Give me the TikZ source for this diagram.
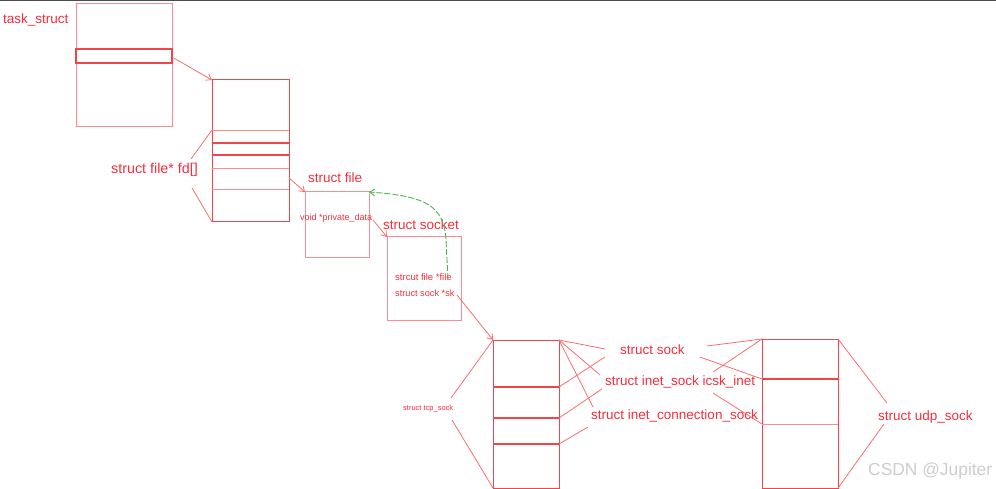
\documentclass[tikz,border=0pt]{standalone}
\usepackage{fontspec}
\setmainfont{Liberation Sans}
\usetikzlibrary{arrows.meta,calc}
\definecolor{redthin}{RGB}{255,140,140}
\definecolor{redthick}{RGB}{240,70,75}
\definecolor{redline}{RGB}{250,110,110}
\definecolor{redtext}{RGB}{245,45,60}
\definecolor{greenline}{RGB}{70,185,80}
\definecolor{wm}{RGB}{205,205,205}
\tikzset{
  box/.style={draw=redthin, line width=1pt, inner sep=0pt, outer sep=0pt, anchor=north west},
  lbl/.style={text=redtext, font=\fontsize{13.5}{16}\selectfont, inner sep=0pt, anchor=west},
  smalllbl/.style={text=redtext, font=\fontsize{9.2}{11}\selectfont, inner sep=0pt, anchor=west},
  link/.style={draw=redline, line width=0.8pt},
  arr/.style={link, -{Straight Barb[length=5pt,width=7pt]}},
  rowthin/.style={draw=redthin, line width=0.8pt},
  rowthick/.style={draw=redthick, line width=1.2pt},
}
\begin{document}
\begin{tikzpicture}[x=1pt,y=-1pt]
\useasboundingbox (0,0) rectangle (996,489);
\fill[black!70] (0,0) rectangle (996,1.3);

% ---------- boxes ----------
\node[box, minimum width=96pt, minimum height=123pt] (task) at (76,4) {};
\node[box, minimum width=77pt, minimum height=142pt, draw=redthick] (fd) at (212,80) {};
\node[box, minimum width=64pt, minimum height=65pt] (file) at (305,192) {};
\node[box, minimum width=74pt, minimum height=83pt] (sock) at (387,237) {};
\node[box, minimum width=66pt, minimum height=148pt, draw=redthick] (tcp) at (493,340) {};
\node[box, minimum width=76pt, minimum height=149pt, draw=redthick] (udp) at (762,339) {};

% rows
\draw[rowthick] (76,49) rectangle (172,63);
\draw[rowthin]  (212,130) -- (289,130);
\draw[rowthick] (212,143) -- (289,143);
\draw[rowthick] (212,155) -- (289,155);
\draw[rowthin]  (212,168) -- (289,168);
\draw[rowthin]  (212,189) -- (289,189);
\draw[rowthick] (493,387) -- (559,387);
\draw[rowthick] (493,418) -- (559,418);
\draw[rowthick] (493,444) -- (559,444);
\draw[rowthick] (762,379) -- (838,379);
\draw[rowthin]  (762,424) -- (838,424);

% ---------- labels ----------
\node[lbl] (ltask) at (3,20) {task\_struct};
\node[lbl, font=\fontsize{14.3}{16}\selectfont] (lfd) at (111,170) {struct file* fd[]};
\node[lbl] (lfile) at (308,178) {struct file};
\node[smalllbl, font=\fontsize{9}{11}\selectfont] (lpriv) at (300,218) {void *private\_data};
\node[lbl] (lsock) at (383,225) {struct socket};
\node[smalllbl, font=\fontsize{9.5}{11}\selectfont] (lsf) at (395,277) {strcut file *file};
\node[smalllbl] (lsk) at (395,293) {struct sock *sk};
\node[smalllbl, font=\fontsize{7.5}{9}\selectfont] (ltcp) at (403,409) {struct tcp\_sock};
\node[lbl] (lss) at (620,350) {struct sock};
\node[lbl] (lis) at (605,382) {struct inet\_sock icsk\_inet};
\node[lbl] (lic) at (591,416) {struct inet\_connection\_sock};
\node[lbl] (ludp) at (878,417) {struct udp\_sock};
\node[anchor=west, inner sep=0pt, text=wm, font=\fontsize{17.4}{20}\selectfont] (wmk) at (868,471) {CSDN @Jupiter};

% ---------- named points ----------
\coordinate (taskrow) at (172,57);
\coordinate (fdout) at (289,178);
\coordinate (privend) at (373,220);
\coordinate (skend) at (457,295);
\coordinate (fileend) at (448,279);
\coordinate (fdb1) at (191,159);
\coordinate (fdb2) at (192,188);
\coordinate (tcpb1) at (451,398);
\coordinate (tcpb2) at (452,420);
\coordinate (tr1) at (559,387);
\coordinate (tr2) at (559,418);
\coordinate (tr3) at (559,444);
\coordinate (ss1) at (605,349);
\coordinate (ss2) at (605,357);
\coordinate (is1) at (600,375);
\coordinate (is2) at (602,389);
\coordinate (ic1) at (593,407);
\coordinate (ic2) at (588,427);
\coordinate (ssr1) at (707,346);
\coordinate (ssr2) at (700,357);
\coordinate (isr1) at (713,372);
\coordinate (isr2) at (713,393);
\coordinate (ur1) at (762,379);
\coordinate (ur2) at (762,424);
\coordinate (udb1) at (887,403);
\coordinate (udb2) at (884,424);

% ---------- connectors ----------
\draw[arr] (taskrow) -- (fd.north west);
\draw[arr] (fdout) -- (file.north west);
\draw[arr] (privend) -- (sock.north west);
\draw[arr] (skend) -- (tcp.north west);
\draw[greenline, line width=0.9pt, dashed, dash pattern=on 6pt off 2pt, -{Straight Barb[length=5pt,width=7pt]}]
  (fileend) -- (446,240) .. controls (444,205) and (425,196) .. (file.north east);

% fd[] brace
\draw[link] (fdb1) -- (fd.west |- 0,130);
\draw[link] (fdb2) -- (fd.south west);
% tcp brace
\draw[link] (tcpb1) -- (tcp.north west);
\draw[link] (tcpb2) -- (tcp.south west);
% tcp to labels
\draw[link] (tcp.north east) -- (ss1);
\draw[link] (tcp.north east) -- (is1);
\draw[link] (tcp.north east) -- (ic1);
\draw[link] (tr1) -- (ss2);
\draw[link] (tr2) -- (is2);
\draw[link] (tr3) -- (ic2);
% labels to udp
\draw[link] (ssr1) -- (udp.north west);
\draw[link] (isr1) -- (udp.north west);
\draw[link] (ssr2) -- (ur1);
\draw[link] (isr2) -- (ur2);
% udp brace
\draw[link] (udp.north east) -- (udb1);
\draw[link] (udb2) -- (udp.south east);
\end{tikzpicture}
\end{document}
